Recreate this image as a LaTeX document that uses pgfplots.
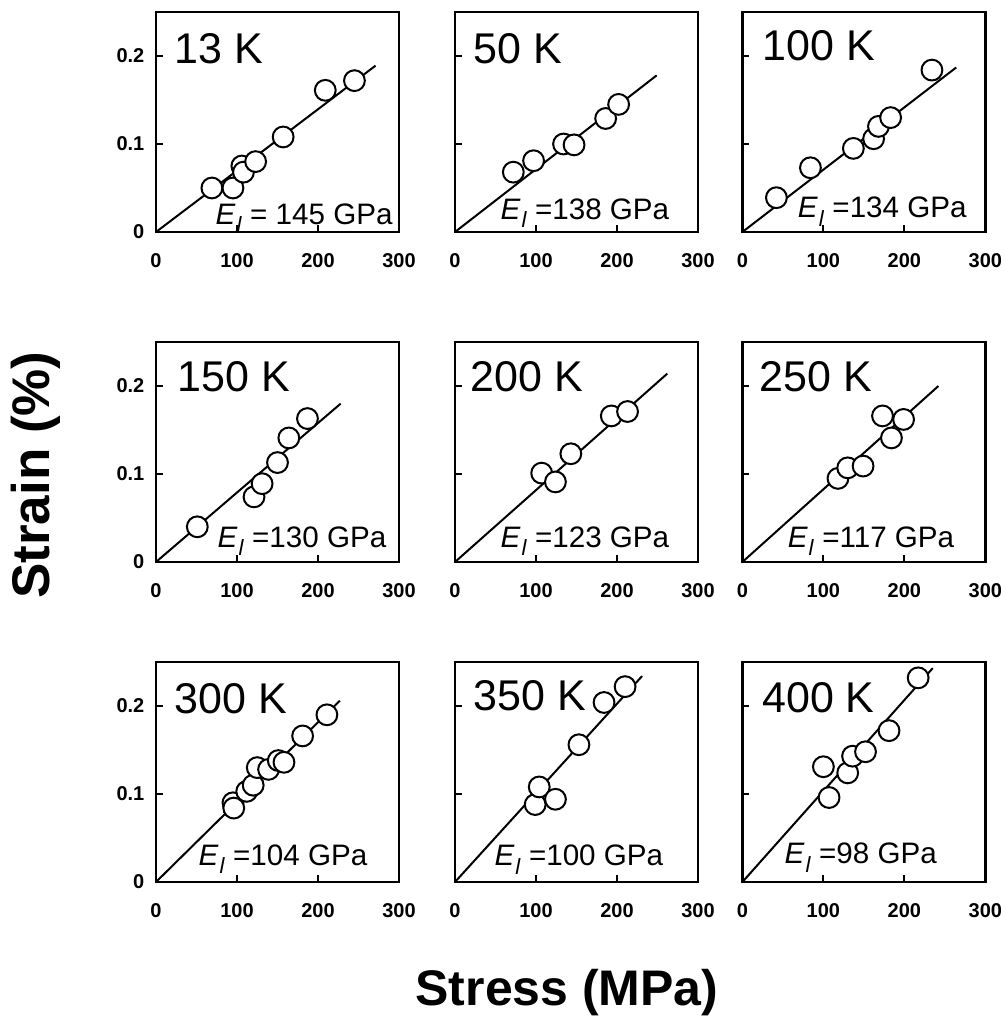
\documentclass[border=0pt]{standalone}
\usepackage{fontspec}
\setmainfont{Liberation Sans}
\usepackage{pgfplots}
\pgfplotsset{compat=1.18}
\newcommand{\El}{\textit{E}\kern0.03em\raisebox{-0.3em}{\fontsize{11}{11}\selectfont\textit{l}}}
\tikzset{
  tlab/.style={anchor=base west, font=\fontsize{21.5}{24}\selectfont, inner sep=0pt},
  elab/.style={anchor=base west, font=\fontsize{14.8}{16}\selectfont, inner sep=0pt},
}
\pgfplotsset{
  panel/.style={
    scale only axis, width=121.5pt, height=110pt,
    xmin=0, xmax=300, ymin=0, ymax=0.25,
    xtick={0,100,200,300}, xticklabels={0,100,200,300},
    ytick={0,0.1,0.2}, yticklabels={},
    tick pos=left, tick align=inside, major tick length=3.5pt,
    axis line style={line width=1.3pt},
    every tick/.style={black, line width=1pt},
    ticklabel style={font=\fontsize{10}{11}\selectfont\bfseries},
    /pgf/number format/assume math mode=true,
    xticklabel shift=7pt,
    yticklabel shift=2.3pt,
  },
  firstcol/.style={yticklabels={0,0.1,0.2}},
  fit/.style={black, line width=1pt, no marks},
  pts/.style={only marks, mark=*, mark size=5.2pt,
    mark options={fill=white, draw=black, line width=1pt}},
}
\begin{document}
\begin{tikzpicture}
\useasboundingbox (0,0) rectangle (502.5pt,509.5pt);
% ---------------- Row 1 ----------------
\begin{axis}[panel, firstcol, at={(78pt,393.5pt)}, anchor=south west]
\addplot[fit] coordinates {(0,0) (271,0.189)};
\addplot[pts] coordinates {(69,0.050) (95,0.050) (106,0.075) (108,0.068) (123,0.080) (157,0.108) (209,0.161) (245,0.172)};
\node[tlab] at (rel axis cs:0.074,0.766) {13 K};
\node[elab] at (rel axis cs:0.244,0.036) {\El\ = 145 GPa};
\end{axis}
\begin{axis}[panel, at={(227.5pt,393.5pt)}, anchor=south west]
\addplot[fit] coordinates {(0,0) (249,0.178)};
\addplot[pts] coordinates {(72,0.068) (97,0.081) (134,0.100) (147,0.099) (186,0.129) (202,0.145)};
\node[tlab] at (rel axis cs:0.074,0.766) {50 K};
\node[elab] at (rel axis cs:0.186,0.059) {\El\ =138 GPa};
\end{axis}
\begin{axis}[panel, at={(371.2pt,393.5pt)}, anchor=south west]
\addplot[fit] coordinates {(0,0) (264,0.187)};
\addplot[pts] coordinates {(42,0.039) (84,0.073) (137,0.095) (162,0.106) (168,0.120) (183,0.130) (234,0.184)};
\node[tlab] at (rel axis cs:0.081,0.78) {100 K};
\node[elab] at (rel axis cs:0.227,0.064) {\El\ =134 GPa};
\end{axis}
% ---------------- Row 2 ----------------
\begin{axis}[panel, firstcol, at={(78pt,228.5pt)}, anchor=south west]
\addplot[fit] coordinates {(0,0) (228,0.180)};
\addplot[pts] coordinates {(51,0.040) (121,0.074) (131,0.089) (150,0.113) (164,0.141) (187,0.163)};
\node[tlab] at (rel axis cs:0.087,0.773) {150 K};
\node[elab] at (rel axis cs:0.252,0.068) {\El\ =130 GPa};
\end{axis}
\begin{axis}[panel, at={(227.5pt,228.5pt)}, anchor=south west]
\addplot[fit] coordinates {(0,0) (262,0.214)};
\addplot[pts] coordinates {(107,0.101) (124,0.091) (143,0.123) (193,0.166) (213,0.171)};
\node[tlab] at (rel axis cs:0.062,0.774) {200 K};
\node[elab] at (rel axis cs:0.186,0.068) {\El\ =123 GPa};
\end{axis}
\begin{axis}[panel, at={(371.2pt,228.5pt)}, anchor=south west]
\addplot[fit] coordinates {(0,0) (242,0.200)};
\addplot[pts] coordinates {(118,0.095) (130,0.107) (149,0.109) (173,0.166) (184,0.141) (199,0.162)};
\node[tlab] at (rel axis cs:0.069,0.774) {250 K};
\node[elab] at (rel axis cs:0.185,0.068) {\El\ =117 GPa};
\end{axis}
% ---------------- Row 3 ----------------
\begin{axis}[panel, firstcol, at={(78pt,68.5pt)}, anchor=south west]
\addplot[fit] coordinates {(0,0) (227,0.206)};
\addplot[pts] coordinates {(95,0.090) (96,0.084) (112,0.103) (120,0.110) (125,0.130) (139,0.128) (151,0.138) (158,0.136) (181,0.166) (211,0.190)};
\node[tlab] at (rel axis cs:0.074,0.768) {300 K};
\node[elab] at (rel axis cs:0.174,0.077) {\El\ =104 GPa};
\end{axis}
\begin{axis}[panel, at={(227.5pt,68.5pt)}, anchor=south west]
\addplot[fit] coordinates {(0,0) (231,0.234)};
\addplot[pts] coordinates {(99,0.088) (104,0.108) (124,0.094) (153,0.156) (184,0.204) (210,0.222)};
\node[tlab] at (rel axis cs:0.074,0.78) {350 K};
\node[elab] at (rel axis cs:0.161,0.073) {\El\ =100 GPa};
\end{axis}
\begin{axis}[panel, at={(371.2pt,68.5pt)}, anchor=south west]
\addplot[fit] coordinates {(0,0) (235,0.243)};
\addplot[pts] coordinates {(100,0.131) (107,0.096) (130,0.124) (136,0.143) (152,0.148) (181,0.172) (217,0.232)};
\node[tlab] at (rel axis cs:0.08,0.77) {400 K};
\node[elab] at (rel axis cs:0.172,0.082) {\El\ =98 GPa};
\end{axis}
% ---------------- Axis titles ----------------
\node[rotate=90, anchor=base, font=\fontsize{26.5}{30}\selectfont\bfseries] at (24.5pt,272pt) {Strain (\%)};
\node[anchor=base, font=\fontsize{25}{30}\selectfont\bfseries] at (283.5pt,6.5pt) {Stress (MPa)};
\end{tikzpicture}
\end{document}
